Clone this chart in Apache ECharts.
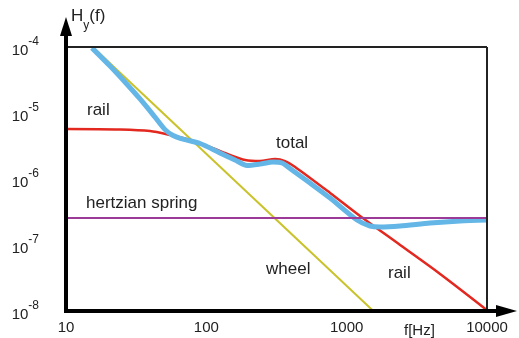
<!DOCTYPE html>
<html>
<head>
<meta charset="utf-8">
<script src="https://cdn.jsdelivr.net/npm/echarts@6/dist/echarts.min.js"></script>
<style>
html,body{margin:0;padding:0;background:#fff;}
#chart{width:519px;height:338px;}
</style>
</head>
<body>
<div id="chart"></div>
<script>
// frequency [Hz], receptance H_y(f)
const totalF = [15.3, 20.6, 26.3, 33.7, 43.0, 50.8, 57.5, 66.0, 90.2, 125, 160, 195, 241, 299, 347, 408, 548, 762, 1186, 1468, 1730, 2404, 3930, 6427, 10000];
const totalH = [9.7e-5, 5.15e-5, 2.95e-5, 1.63e-5, 8.69e-6, 5.6e-6, 4.6e-6, 4.1e-6, 3.45e-6, 2.48e-6, 1.94e-6, 1.6e-6, 1.68e-6, 1.81e-6, 1.75e-6, 1.37e-6, 8.69e-7, 5.15e-7, 2.39e-7, 1.94e-7, 1.87e-7, 1.94e-7, 2.15e-7, 2.31e-7, 2.39e-7];
const railF = [10, 24.3, 39.7, 55.1, 76.6, 106, 147, 189, 241, 309, 364, 429, 762, 1245, 2404, 4634, 10000];
const railH = [5.73e-6, 5.63e-6, 5.33e-6, 4.64e-6, 3.9e-6, 3.05e-6, 2.31e-6, 1.94e-6, 1.87e-6, 2.01e-6, 1.87e-6, 1.52e-6, 6.14e-7, 2.75e-7, 1.0e-7, 3.64e-8, 1.03e-8];
const wheelF = [15.5, 1550];
const wheelH = [1e-4, 1e-8];
const springF = [10, 10000];
const springH = [2.57e-7, 2.57e-7];
const xTicks = [10, 100, 1000, 10000];
const yTicks = [1e-8, 1e-7, 1e-6, 1e-5, 1e-4];

const zip = (a, b) => a.map((v, i) => [v, b[i]]);
const FONT = 'Liberation Sans, Arial, sans-serif';

const chart = echarts.init(document.getElementById('chart'), null, {renderer: 'canvas'});

const L = 66, T = 47, R = 487, B = 311;

chart.setOption({
  backgroundColor: '#fff',
  animation: false,
  grid: {left: L, right: 519 - R, top: T, bottom: 338 - B, containLabel: false},
  xAxis: {
    type: 'log', logBase: 10, min: xTicks[0], max: xTicks[xTicks.length - 1],
    axisLine: {show: false},
    axisTick: {show: false},
    splitLine: {show: false},
    axisLabel: {
      fontFamily: FONT, fontSize: 15, color: '#222', margin: 9,
      formatter: v => String(Math.round(v))
    }
  },
  yAxis: {
    type: 'log', logBase: 10, min: yTicks[0], max: yTicks[yTicks.length - 1],
    axisLine: {show: false},
    axisTick: {show: false},
    splitLine: {show: false},
    axisLabel: {
      fontFamily: FONT, margin: 27, color: '#222',
      formatter: v => '{a|10}{b|' + Math.round(Math.log10(v)) + '}',
      rich: {
        a: {fontFamily: FONT, fontSize: 15, color: '#222', verticalAlign: 'bottom', lineHeight: 22},
        b: {fontFamily: FONT, fontSize: 12, color: '#222', verticalAlign: 'top', lineHeight: 22}
      }
    }
  },
  series: [
    {type: 'line', name: 'wheel', data: zip(wheelF, wheelH), showSymbol: false, symbol: 'none',
     lineStyle: {color: '#c9c22a', width: 2}, z: 2},
    {type: 'line', name: 'rail', data: zip(railF, railH), showSymbol: false, symbol: 'none', smooth: 0.3,
     lineStyle: {color: '#e2281f', width: 2.5}, z: 3},
    {type: 'line', name: 'total', data: zip(totalF, totalH), showSymbol: false, symbol: 'none', smooth: 0.25,
     lineStyle: {color: '#63b6e6', width: 5}, z: 4},
    {type: 'line', name: 'hertzian spring', data: zip(springF, springH), showSymbol: false, symbol: 'none',
     lineStyle: {color: '#9b3b97', width: 2}, z: 5}
  ],
  graphic: [
    {type: 'line', shape: {x1: L, y1: T, x2: R, y2: T}, style: {stroke: '#222', lineWidth: 2}, z: 10},
    {type: 'line', shape: {x1: R, y1: T, x2: R, y2: B}, style: {stroke: '#222', lineWidth: 2}, z: 10},
    {type: 'line', shape: {x1: L, y1: B + 2, x2: L, y2: 30}, style: {stroke: '#000', lineWidth: 4}, z: 11},
    {type: 'polygon', shape: {points: [[L, 17], [L - 6, 36], [L + 6, 36]]}, style: {fill: '#000'}, z: 11},
    {type: 'line', shape: {x1: L - 2, y1: B, x2: 500, y2: B}, style: {stroke: '#000', lineWidth: 4}, z: 11},
    {type: 'polygon', shape: {points: [[517, B], [496, B - 6], [496, B + 6]]}, style: {fill: '#000'}, z: 11},
    {type: 'text', left: 71, top: 8, z: 12,
     style: {text: '{h|H}{s|y}{h|(f)}', fontFamily: FONT,
       rich: {h: {fontSize: 17, fontFamily: FONT, fill: '#222', verticalAlign: 'top', lineHeight: 22},
              s: {fontSize: 12, fontFamily: FONT, fill: '#222', verticalAlign: 'bottom', lineHeight: 24}}}},
    {type: 'text', left: 404, top: 323, z: 12, style: {text: 'f[Hz]', fontFamily: FONT, fontSize: 15, fill: '#222'}},
    {type: 'text', left: 87, top: 102, z: 12, style: {text: 'rail', fontFamily: FONT, fontSize: 17, fill: '#222'}},
    {type: 'text', left: 276, top: 135, z: 12, style: {text: 'total', fontFamily: FONT, fontSize: 17, fill: '#222'}},
    {type: 'text', left: 86, top: 195, z: 12, style: {text: 'hertzian spring', fontFamily: FONT, fontSize: 17, fill: '#222'}},
    {type: 'text', left: 266, top: 261, z: 12, style: {text: 'wheel', fontFamily: FONT, fontSize: 17, fill: '#222'}},
    {type: 'text', left: 388, top: 265, z: 12, style: {text: 'rail', fontFamily: FONT, fontSize: 17, fill: '#222'}}
  ]
});
</script>
</body>
</html>
